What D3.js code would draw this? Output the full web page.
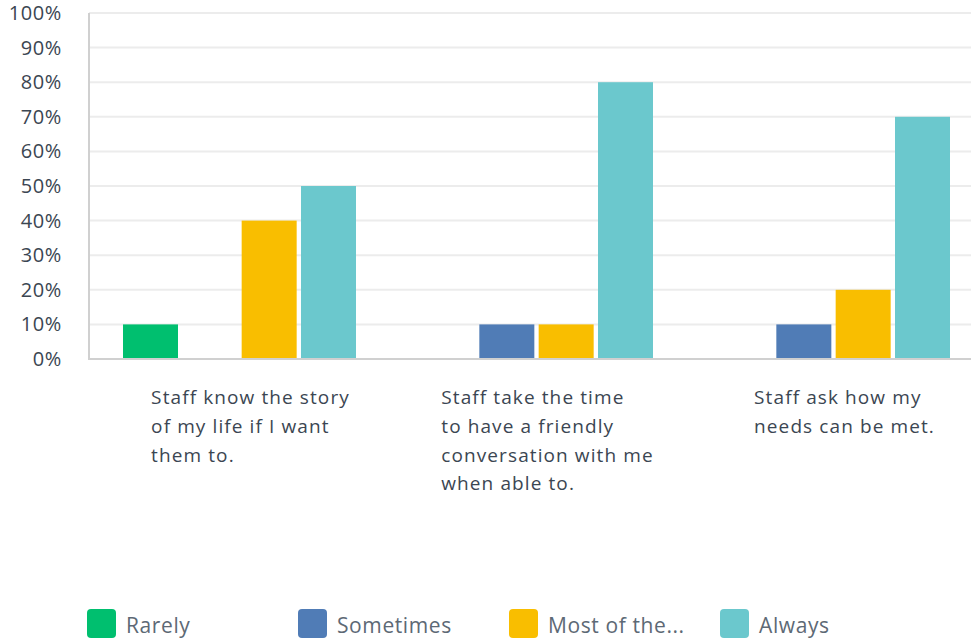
<!DOCTYPE html>
<html>
<head>
<meta charset="utf-8">
<script src="https://cdn.jsdelivr.net/npm/d3@7"></script>
<style>
  html, body { margin: 0; padding: 0; background: #fff; }
  svg { display: block; }
  text { font-family: "Open Sans", Lato, sans-serif; }
</style>
</head>
<body>
<svg id="chart" width="971" height="640"></svg>
<script>
const categories = [
  ["Staff know the story", "of my life if I want", "them to."],
  ["Staff take the time", "to have a friendly", "conversation with me", "when able to."],
  ["Staff ask how my", "needs can be met."]
];
const categoryKeys = ["c1", "c2", "c3"];
const seriesNames = ["Rarely", "Sometimes", "Most of the...", "Always"];
const seriesColors = ["#00bf6f", "#507cb6", "#f9be00", "#6bc8cd"];
const rarely    = [10, 0, 0];
const sometimes = [0, 10, 10];
const mostOfThe = [40, 10, 20];
const always    = [50, 80, 70];
const yTicks = [0, 10, 20, 30, 40, 50, 60, 70, 80, 90, 100];

const seriesValues = [rarely, sometimes, mostOfThe, always];

const svg = d3.select("#chart");
const plotLeft = 89, plotRight = 971, plotTop = 13, plotBottom = 359;

const y = d3.scaleLinear().domain([0, 100]).range([plotBottom, plotTop]);
const x0 = d3.scaleBand().domain(categoryKeys).range([91, 982]).padding(0);
const x1 = d3.scaleBand().domain(seriesNames).range([32, 265]).paddingInner(0.073).paddingOuter(0);

// gridlines
svg.append("g").selectAll("line").data(yTicks.filter(t => t > 0)).join("line")
  .attr("x1", plotLeft).attr("x2", plotRight)
  .attr("y1", d => y(d)).attr("y2", d => y(d))
  .attr("stroke", "#ececec").attr("stroke-width", 2);

// y axis labels
const yAxis = d3.axisLeft(y).tickValues(yTicks).tickFormat(d => d + "%").tickSize(0).tickPadding(27);
const ya = svg.append("g").attr("transform", `translate(${plotLeft},0)`).call(yAxis);
ya.select(".domain").remove();
ya.selectAll("text").attr("font-size", 20).attr("fill", "#3b4652")
  .attr("letter-spacing", 0.6)
  .attr("font-family", "'Open Sans', sans-serif");

// bars
const groups = svg.append("g").selectAll("g").data(categoryKeys).join("g")
  .attr("transform", d => `translate(${x0(d)},0)`);
groups.selectAll("rect").data((d, i) => seriesNames.map((s, j) => ({s, j, v: seriesValues[j][i]})))
  .join("rect")
  .attr("x", d => x1(d.s)).attr("width", x1.bandwidth())
  .attr("y", d => y(d.v)).attr("height", d => y(0) - y(d.v))
  .attr("fill", d => seriesColors[d.j]);

// axes lines
svg.append("line").attr("x1", plotLeft).attr("x2", plotLeft).attr("y1", plotTop).attr("y2", plotBottom + 1)
  .attr("stroke", "#d0d0d0").attr("stroke-width", 2);
svg.append("line").attr("x1", plotLeft).attr("x2", plotRight).attr("y1", plotBottom).attr("y2", plotBottom)
  .attr("stroke", "#d0d0d0").attr("stroke-width", 2);

// category labels
const lineH = 28.8;
categories.forEach((lines, i) => {
  const center = x0(categoryKeys[i]) + x0.bandwidth() / 2 + 11;
  const t = svg.append("text").attr("font-size", 19).attr("letter-spacing", 1.1).attr("fill", "#3b4652");
  lines.forEach((ln, k) => {
    t.append("tspan").attr("x", 0).attr("y", 404 + k * lineH).text(ln);
  });
  const w = d3.max(t.selectAll("tspan").nodes(), n => n.getComputedTextLength());
  t.selectAll("tspan").attr("x", center - w / 2);
});

// legend
const legend = svg.append("g").selectAll("g").data(seriesNames).join("g")
  .attr("transform", (d, i) => `translate(${87 + i * 211},609)`);
legend.append("rect").attr("width", 29).attr("height", 29).attr("rx", 4)
  .attr("fill", (d, i) => seriesColors[i]);
legend.append("text").attr("x", 39).attr("y", 24).attr("font-size", 21)
  .attr("letter-spacing", 0.6)
  .attr("fill", "#5d6975").text(d => d);
</script>
</body>
</html>
